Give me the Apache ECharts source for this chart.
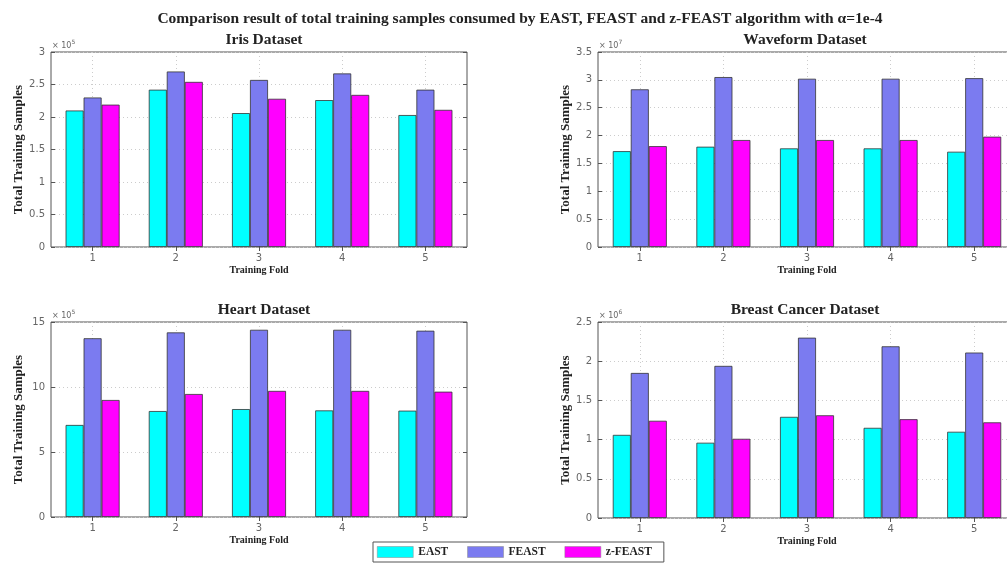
<!DOCTYPE html>
<html>
<head>
<meta charset="utf-8">
<script src="https://cdn.jsdelivr.net/npm/echarts@6/dist/echarts.min.js"></script>
<style>html,body{margin:0;padding:0;background:#fff;}#c{width:1007px;height:564px;}</style>
</head>
<body>
<div id="c"></div>
<script>
// ---- data ----
const categories = ['1', '2', '3', '4', '5'];
const seriesNames = ['EAST', 'FEAST', 'z-FEAST'];

const irisEAST  = [2.10, 2.42, 2.06, 2.26, 2.03];
const irisFEAST = [2.30, 2.70, 2.57, 2.67, 2.42];
const irisZ     = [2.19, 2.54, 2.28, 2.34, 2.11];

const waveEAST  = [1.72, 1.80, 1.77, 1.77, 1.71];
const waveFEAST = [2.83, 3.05, 3.02, 3.02, 3.03];
const waveZ     = [1.81, 1.92, 1.92, 1.92, 1.98];

const heartEAST  = [7.08, 8.15, 8.30, 8.20, 8.18];
const heartFEAST = [13.75, 14.20, 14.40, 14.40, 14.33];
const heartZ     = [9.00, 9.46, 9.70, 9.70, 9.64];

const breastEAST  = [1.06, 0.96, 1.29, 1.15, 1.10];
const breastFEAST = [1.85, 1.94, 2.30, 2.19, 2.11];
const breastZ     = [1.24, 1.01, 1.31, 1.26, 1.22];

const panelTitles = ['Iris Dataset', 'Waveform Dataset', 'Heart Dataset', 'Breast Cancer Dataset'];
const yMax = [3, 3.5, 15, 2.5];
const yStep = [0.5, 0.5, 5, 0.5];
const exponents = ['5', '7', '5', '6'];
const mainTitle = 'Comparison result of total training samples consumed by EAST, FEAST and z-FEAST algorithm with \u03b1=1e-4';
const xName = 'Training Fold';
const yName = 'Total Training Samples';

const panelData = [
  [irisEAST, irisFEAST, irisZ],
  [waveEAST, waveFEAST, waveZ],
  [heartEAST, heartFEAST, heartZ],
  [breastEAST, breastFEAST, breastZ]
];

// ---- layout / style ----
const colors = ['#00ffff', '#7b7bf0', '#ff00ff'];
const grids = [
  {left: 51, top: 52, width: 416, height: 195},
  {left: 598, top: 52, width: 418, height: 195},
  {left: 51, top: 322, width: 416, height: 195},
  {left: 598, top: 322, width: 418, height: 196}
];
const serif = 'Liberation Serif';
const tickColor = '#666';

const option = {
  backgroundColor: '#fff',
  animation: false,
  color: colors,
  title: [{
    text: mainTitle, left: 515, top: 6, textAlign: 'center',
    textStyle: {fontFamily: serif, fontWeight: 'bold', fontSize: 15.5, color: '#222'}
  }].concat(grids.map((g, i) => ({
    text: panelTitles[i], left: (i % 2 === 0 ? 259 : 800), top: g.top - 25, textAlign: 'center',
    textStyle: {fontFamily: serif, fontWeight: 'bold', fontSize: 15.5, color: '#222'}
  }))),
  legend: {
    data: seriesNames, left: 373, top: 542, orient: 'horizontal',
    icon: 'rect',
    itemWidth: 36, itemHeight: 11, itemGap: 19,
    padding: [4, 12, 4, 4],
    borderColor: '#555', borderWidth: 1,
    itemStyle: {borderColor: '#888', borderWidth: 0.5},
    textStyle: {fontFamily: serif, fontWeight: 'bold', fontSize: 11.5, color: '#222'}
  },
  grid: grids.map(g => Object.assign({show: true, borderColor: '#555', borderWidth: 1, backgroundColor: '#fff',
    containLabel: false, outerBoundsMode: 'none'}, g)),
  xAxis: [],
  yAxis: [],
  series: [],
  graphic: []
};

grids.forEach((g, i) => {
  option.xAxis.push({
    type: 'category', gridIndex: i, data: categories, position: 'bottom',
    name: xName, nameLocation: 'middle', nameGap: 18,
    nameTextStyle: {fontFamily: serif, fontWeight: 'bold', fontSize: 10, color: '#222'},
    axisLine: {show: false},
    axisTick: {show: true, inside: true, alignWithLabel: true, length: 4, lineStyle: {color: '#555'}},
    axisLabel: {color: tickColor, fontSize: 10, margin: 6, fontFamily: 'DejaVu Sans'},
    splitLine: {show: true, alignWithLabel: true, lineStyle: {color: '#ccc', type: [1, 3]}}
  });
  option.xAxis.push({
    type: 'category', gridIndex: i, data: categories, position: 'top',
    axisLine: {show: false},
    axisTick: {show: true, inside: true, alignWithLabel: true, length: 4, lineStyle: {color: '#555'}},
    axisLabel: {show: false}, splitLine: {show: false}
  });
  option.yAxis.push({
    type: 'value', gridIndex: i, min: 0, max: yMax[i], interval: yStep[i],
    name: yName, nameLocation: 'middle', nameGap: 26,
    nameTextStyle: {fontFamily: serif, fontWeight: 'bold', fontSize: 13, color: '#222'},
    axisLine: {show: false},
    axisTick: {show: true, inside: true, length: 4, lineStyle: {color: '#555'}},
    axisLabel: {color: tickColor, fontSize: 10, margin: 6, fontFamily: 'DejaVu Sans'},
    splitLine: {show: true, lineStyle: {color: '#ccc', type: [1, 3]}}
  });
  option.yAxis.push({
    type: 'value', gridIndex: i, min: 0, max: yMax[i], interval: yStep[i], position: 'right',
    axisLine: {show: false},
    axisTick: {show: true, inside: true, length: 4, lineStyle: {color: '#555'}},
    axisLabel: {show: false}, splitLine: {show: false}
  });
  panelData[i].forEach((vals, s) => {
    option.series.push({
      type: 'bar', name: seriesNames[s], data: vals,
      xAxisIndex: i * 2, yAxisIndex: i * 2,
      barWidth: 18, barGap: '0%',
      itemStyle: {color: colors[s], borderColor: '#333', borderWidth: 0.8}
    });
  });
  option.graphic.push({
    type: 'text', left: g.left + 1, top: g.top - 13,
    style: {
      text: '{a|\u00d7 10}{b|' + exponents[i] + '}',
      rich: {
        a: {fontSize: 8, fill: '#666', fontFamily: 'DejaVu Sans', verticalAlign: 'bottom'},
        b: {fontSize: 6, fill: '#666', fontFamily: 'DejaVu Sans', verticalAlign: 'top', padding: [0, 0, 5, 0]}
      }
    }
  });
});

const chart = echarts.init(document.getElementById('c'), null, {renderer: 'canvas'});
chart.setOption(option);
</script>
</body>
</html>
